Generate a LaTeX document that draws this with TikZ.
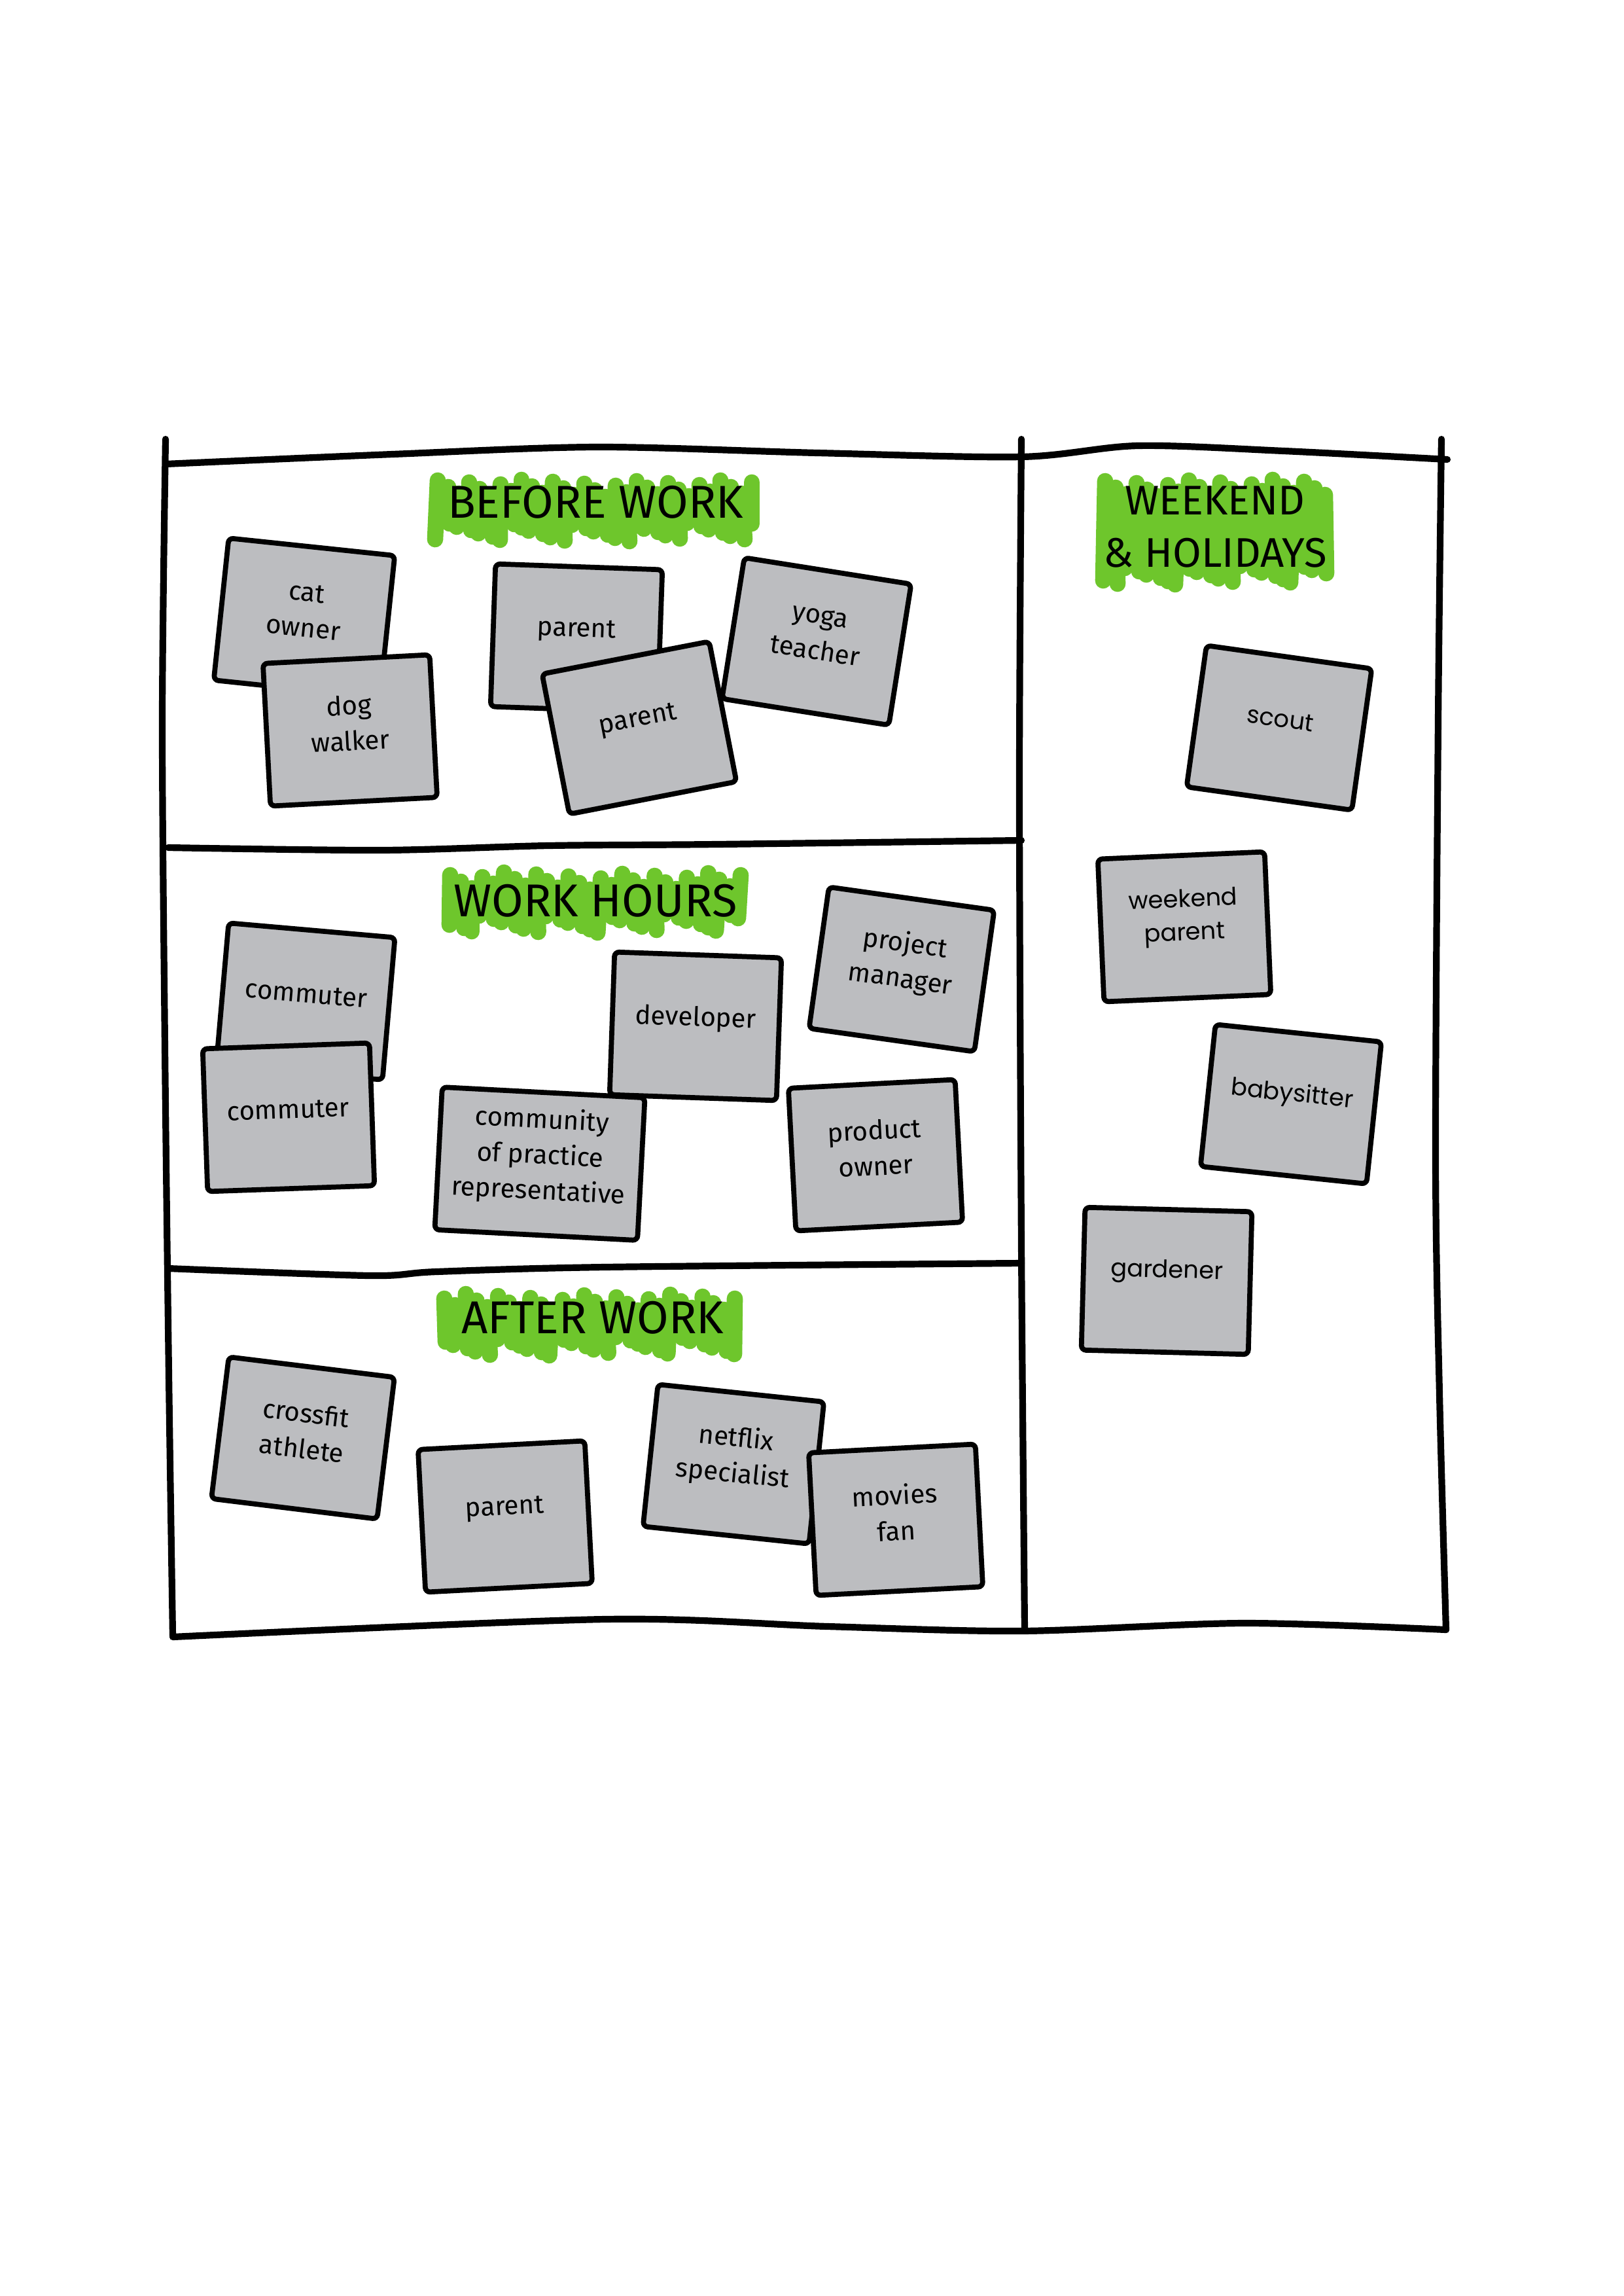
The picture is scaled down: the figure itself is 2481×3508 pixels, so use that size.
\documentclass[tikz,border=0pt]{standalone}
\usepackage{fontspec}
\newfontfamily\cardfont{Fira Sans}
\newfontfamily\wkfont{Poppins}
\usetikzlibrary{calc}
\definecolor{cardgray}{RGB}{188,189,192}
\definecolor{markgreen}{RGB}{110,198,44}

% green highlighter scribble: centre x, centre y, half width, half height, seed
\newcommand{\greenmark}[5]{%
  \pgfmathtruncatemacro{\nstk}{2*#3/16}
  \foreach \i in {0,...,\nstk}{
    \pgfmathsetmacro{\sx}{#1-#3+\i*2*#3/\nstk}
    \pgfmathsetmacro{\ta}{#2-#4+13+mod(\i*37+#5,27)}
    \pgfmathsetmacro{\tb}{#2+#4-13-mod(\i*53+3*#5,29)}
    \pgfmathsetmacro{\sl}{mod(\i*17+#5,11)-5}
    \draw[greenstroke] (\sx,\ta) -- (\sx+\sl,\tb);
  }}

\begin{document}
\begin{tikzpicture}[x=0.01cm, y=-0.01cm,
    frame/.style={line width=2.9pt, line cap=round, line join=round},
    greenstroke/.style={line width=7pt, line cap=round, markgreen},
    title/.style={font=\cardfont\fontsize{20}{23}\selectfont, align=center, inner sep=0pt},
    card/.style={draw, line width=2.2pt, fill=cardgray, rounded corners=2pt, minimum width=2.55cm, minimum height=2.18cm, inner sep=0pt},
    cardtext/.style={font=\cardfont\fontsize{11.5}{15.5}\selectfont, align=center, inner sep=0pt},
    wktext/.style={cardtext, font=\wkfont\fontsize{10.5}{14.5}\selectfont}]
  \useasboundingbox[fill=white] (0,0) rectangle (2481,3508);

  \draw[frame] plot[smooth] coordinates {(253,671) (248,1100) (252,1600) (258,2100) (264,2499)};
  \draw[frame] plot[smooth] coordinates {(1561,671) (1558,1200) (1561,1900) (1566,2490)};
  \draw[frame] plot[smooth] coordinates {(2203,671) (2198,1100) (2194,1770) (2200,2130) (2210,2490)};
  \draw[frame] plot[smooth] coordinates {(253,709) (600,694) (913,683) (1250,692) (1561,698) (1739,681) (1962,689) (2212,702)};
  \draw[frame] plot[smooth] coordinates {(257,1295) (582,1299) (838,1292) (1095,1290) (1561,1284)};
  \draw[frame] plot[smooth] coordinates {(257,1938) (565,1949) (667,1943) (924,1936) (1561,1930)};
  \draw[frame] plot[smooth] coordinates {(264,2501) (924,2474) (1265,2485) (1561,2492) (1901,2480) (2210,2490)};

  \greenmark{909}{780}{240}{60}{1}
  \node[title] (before) at (910,767) {BEFORE WORK};
  \greenmark{910}{1379}{222}{59}{4}
  \node[title] (hours) at (910,1376) {WORK HOURS};
  \greenmark{901}{2024}{222}{60}{7}
  \node[title] (after) at (906,2013) {AFTER WORK};
  \greenmark{1857}{813}{168}{93}{2}
  \node[title, font=\cardfont\fontsize{18}{22.5}\selectfont] (weekend) at (1857,805) {WEEKEND\\\& HOLIDAYS};

  \foreach \n/\x/\y/\a/\w/\txt in {cat/465/944/-6/2.55/{cat\\owner}, dog/535/1116/3/2.55/{dog\\walker},
      parA/881/975/-2/2.55/{parent}, parB/977/1112/11/2.6/{parent}, yoga/1248/980/-9/2.58/{yoga\\teacher},
      comA/467/1530/-5/2.55/{commuter}, comB/441/1707/2/2.55/{commuter}, dev/1063/1568/-2/2.55/{developer},
      pm/1378/1481/-8/2.55/{project\\manager}, cop/825/1778/-3/3.1/{community\\of practice\\representative},
      po/1338/1765/3/2.55/{product\\owner}, cross/463/2197/-7/2.55/{crossfit\\athlete},
      parC/772/2317/3/2.55/{parent}, netflix/1121/2237/-6/2.55/{netflix\\specialist},
      movies/1369/2322/3/2.55/{movies\\fan}} {
    \node[card, rotate=\a, minimum width=\w cm] (\n) at (\x,\y) {};
    \node[cardtext, rotate=\a] (\n-t) at ($(\n.center)!0.1!(\n.north)$) {\txt};
  }
  \foreach \n/\x/\y/\a/\txt in {scout/1955/1112/-8/{scout}, wkpar/1810/1416/2.5/{weekend\\parent},
      baby/1973/1687/-6/{babysitter}, garden/1783/1957/-1.5/{gardener}} {
    \node[card, rotate=\a] (\n) at (\x,\y) {};
    \node[wktext, rotate=\a] (\n-t) at ($(\n.center)!0.12!(\n.north)$) {\txt};
  }
\end{tikzpicture}
\end{document}
